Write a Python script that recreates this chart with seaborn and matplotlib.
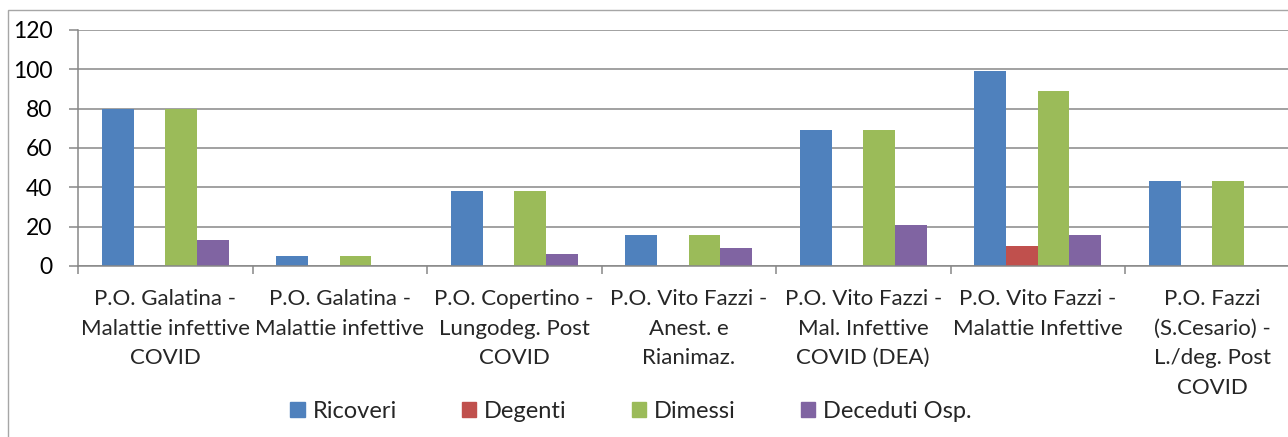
import pandas as pd
import matplotlib.pyplot as plt
import seaborn as sns
from matplotlib.patches import Rectangle

# data
reparti = [
    "P.O. Galatina -\nMalattie infettive\nCOVID",
    "P.O. Galatina -\nMalattie infettive",
    "P.O. Copertino -\nLungodeg. Post\nCOVID",
    "P.O. Vito Fazzi -\nAnest. e\nRianimaz.",
    "P.O. Vito Fazzi -\nMal. Infettive\nCOVID (DEA)",
    "P.O. Vito Fazzi -\nMalattie Infettive",
    "P.O. Fazzi\n(S.Cesario) -\nL./deg. Post\nCOVID",
]
ricoveri = [80, 5, 38, 16, 69, 99, 43]
degenti = [0, 0, 0, 0, 0, 10, 0]
dimessi = [80, 5, 38, 16, 69, 89, 43]
deceduti = [13, 0, 6, 9, 21, 16, 0]

serie = ["Ricoveri", "Degenti", "Dimessi", "Deceduti Osp."]
colori = ["#4F81BD", "#C0504D", "#9BBB59", "#8064A2"]

df = pd.DataFrame({"Reparto": reparti, "Ricoveri": ricoveri, "Degenti": degenti,
                   "Dimessi": dimessi, "Deceduti Osp.": deceduti})
long_df = df.melt(id_vars="Reparto", var_name="Serie", value_name="Pazienti")

sns.set_style("white")
plt.rcParams['font.family'] = ['Lato', 'DejaVu Sans']
grid_col = "#878787"

fig = plt.figure(figsize=(12.88, 4.37), dpi=100)
ax = fig.add_axes([78 / 1288, 171 / 437, 1221.5 / 1288, 236 / 437])

sns.barplot(data=long_df, x="Reparto", y="Pazienti", hue="Serie", order=reparti,
            hue_order=serie, palette=colori, width=0.727, saturation=1,
            linewidth=0, ax=ax)

ax.set_xlim(-0.5, 6.5)
ax.set_ylim(0, 120)
ax.set_yticks(range(0, 121, 20))
ax.set_axisbelow(True)
ax.yaxis.grid(True, color=grid_col, linewidth=1.1)
ax.xaxis.grid(False)
ax.set_xlabel("")
ax.set_ylabel("")

for side in ["top", "right"]:
    ax.spines[side].set_visible(False)
for side in ["left", "bottom"]:
    ax.spines[side].set_color(grid_col)
    ax.spines[side].set_linewidth(1.1)

ax.tick_params(axis="y", length=6.5, width=1.1, color=grid_col, pad=12,
               labelsize=16.5, labelcolor="black", left=True)
ax.set_xticks(range(len(reparti)))
ax.set_xticklabels(reparti, fontsize=16, linespacing=1.6)
ax.tick_params(axis="x", which="major", length=0, pad=16.5)
ax.set_xticks([i - 0.5 for i in range(len(reparti) + 1)], minor=True)
ax.tick_params(axis="x", which="minor", length=6, width=1.1, color=grid_col,
               bottom=True)

ax.get_legend().remove()
handles = [Rectangle((0, 0), 1, 1, color=c) for c in colori]
fig.legend(handles, serie, loc="center", bbox_to_anchor=(631 / 1288, 0.058),
           bbox_transform=fig.transFigure, ncol=4, frameon=False, fontsize=17,
           handlelength=0.62, handleheight=0.62, handletextpad=0.33,
           columnspacing=2.75)

# chart area border (only top and left visible in the crop)
fig.patches.append(Rectangle((8 / 1288, -0.2), 1.2, 427 / 437 + 0.2,
                             transform=fig.transFigure, fill=False,
                             edgecolor="#A6A6A6", linewidth=1))

plt.savefig("out.png", dpi=100)
